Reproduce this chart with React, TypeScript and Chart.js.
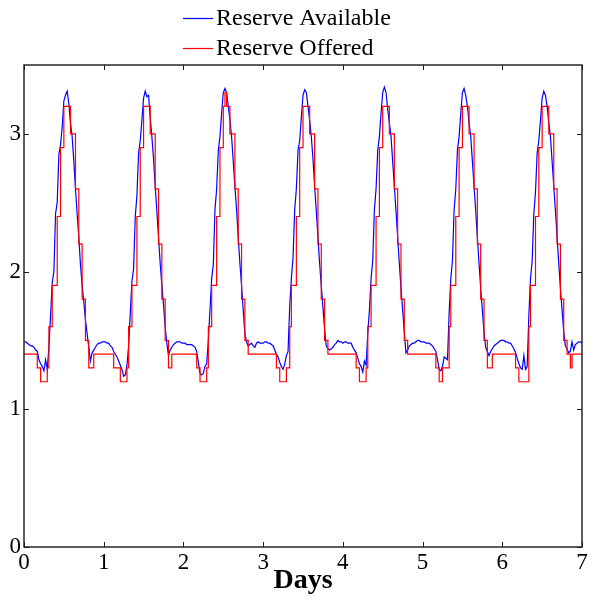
import React, { useEffect, useRef } from 'react';
import { Chart, registerables } from 'chart.js';

Chart.register(...registerables);

const SERIF = '"Liberation Serif", "Times New Roman", serif';
const STEPS_PER_DAY = 48; // half-hour samples
const xTickValues = [0, 1, 2, 3, 4, 5, 6, 7];
const yTickValues = [0, 1, 2, 3];
const seriesLabels = ['Reserve Available', 'Reserve Offered'];
const axisTitle = 'Days';

// Reserve Available (blue), one array per day, half-hourly
const availDay0 = [1.49,1.49,1.48,1.47,1.46,1.46,1.45,1.43, 1.42,1.36,1.33,1.31,1.28,1.36,1.29,1.45, 1.68,1.92,2.0,2.42,2.5,2.85,2.92,3.05, 3.24,3.28,3.31,3.22,3.08,2.98,2.8,2.6, 2.42,2.25,2.05,1.9,1.78,1.65,1.55,1.45, 1.35,1.41,1.43,1.45,1.47,1.48,1.48,1.49];
const availDay1 = [1.49,1.49,1.48,1.48,1.46,1.45,1.42,1.40, 1.38,1.35,1.32,1.29,1.24,1.25,1.32,1.46, 1.7,1.93,2.02,2.4,2.55,2.86,2.95,3.1, 3.26,3.31,3.27,3.28,3.12,2.98,2.82,2.62, 2.44,2.25,2.06,1.9,1.76,1.6,1.48,1.39, 1.43,1.45,1.47,1.48,1.49,1.49,1.49,1.48];
const availDay2 = [1.48,1.48,1.47,1.47,1.47,1.47,1.46,1.45, 1.42,1.34,1.26,1.25,1.26,1.31,1.33,1.5, 1.72,1.95,2.05,2.45,2.6,2.88,2.98,3.15, 3.3,3.33,3.3,3.2,3.1,2.98,2.8,2.62, 2.45,2.25,2.06,1.9,1.72,1.55,1.49,1.46, 1.47,1.48,1.46,1.45,1.48,1.49,1.48,1.48];
const availDay3 = [1.48,1.49,1.49,1.48,1.48,1.47,1.46,1.43, 1.40,1.38,1.34,1.31,1.29,1.33,1.39,1.42, 1.75,1.95,2.1,2.45,2.6,2.88,2.95,3.12, 3.28,3.32,3.3,3.2,3.1,2.98,2.82,2.62, 2.44,2.25,2.06,1.9,1.74,1.58,1.46,1.44, 1.43,1.44,1.45,1.47,1.48,1.5,1.49,1.49];
const availDay4 = [1.48,1.49,1.49,1.48,1.48,1.48,1.45,1.43, 1.41,1.37,1.33,1.31,1.27,1.35,1.32,1.55, 1.72,1.95,2.08,2.45,2.6,2.88,2.98,3.15, 3.3,3.34,3.3,3.18,3.08,2.98,2.8,2.62, 2.44,2.25,2.06,1.88,1.72,1.56,1.41,1.43, 1.46,1.47,1.48,1.48,1.49,1.5,1.5,1.49];
const availDay5 = [1.49,1.49,1.48,1.48,1.48,1.47,1.46,1.44, 1.42,1.36,1.29,1.28,1.31,1.38,1.37,1.36, 1.7,1.95,2.08,2.45,2.6,2.88,2.98,3.15, 3.3,3.33,3.28,3.2,3.08,2.98,2.8,2.62, 2.44,2.25,2.06,1.88,1.72,1.56,1.45,1.42, 1.39,1.42,1.44,1.46,1.47,1.48,1.49,1.5];
const availDay6 = [1.5,1.5,1.49,1.49,1.48,1.48,1.46,1.44, 1.41,1.37,1.33,1.3,1.29,1.39,1.29,1.31, 1.68,1.95,2.08,2.42,2.58,2.86,2.95,3.1, 3.26,3.31,3.28,3.2,3.08,2.98,2.8,2.62, 2.44,2.25,2.06,1.88,1.72,1.56,1.46,1.44, 1.41,1.42,1.49,1.43,1.47,1.48,1.49,1.49];
const availEnd = 1.48;

// Reserve Offered (red, stepped), one array per day, half-hourly
const offerDay0 = [1.4,1.4,1.4,1.4,1.4,1.4,1.4,1.4, 1.3,1.3,1.2,1.2,1.2,1.2,1.3,1.6, 1.6,1.9,1.9,1.9,2.4,2.4,2.9,2.9, 3.2,3.2,3.2,3.2,3.0,3.0,3.0,2.6, 2.6,2.2,2.2,1.8,1.8,1.5,1.5,1.3, 1.3,1.3,1.4,1.4,1.4,1.4,1.4,1.4];
const offerDay1 = [1.4,1.4,1.4,1.4,1.4,1.4,1.3,1.3, 1.3,1.3,1.2,1.2,1.2,1.2,1.3,1.6, 1.6,1.9,1.9,1.9,2.4,2.4,2.9,2.9, 3.2,3.2,3.2,3.2,3.0,3.0,3.0,2.6, 2.6,2.2,2.2,1.8,1.8,1.5,1.5,1.3, 1.3,1.4,1.4,1.4,1.4,1.4,1.4,1.4];
const offerDay2 = [1.4,1.4,1.4,1.4,1.4,1.4,1.4,1.4, 1.3,1.3,1.2,1.2,1.2,1.2,1.3,1.6, 1.6,1.9,1.9,1.9,2.4,2.4,2.9,2.9, 3.2,3.3,3.2,3.2,3.0,3.0,3.0,2.6, 2.6,2.2,2.2,1.8,1.8,1.5,1.5,1.4, 1.4,1.4,1.4,1.4,1.4,1.4,1.4,1.4];
const offerDay3 = [1.4,1.4,1.4,1.4,1.4,1.4,1.4,1.4, 1.3,1.3,1.2,1.2,1.2,1.2,1.3,1.3, 1.6,1.9,1.9,1.9,2.4,2.4,2.9,2.9, 3.2,3.2,3.2,3.2,3.0,3.0,3.0,2.6, 2.6,2.2,2.2,1.8,1.8,1.5,1.5,1.4, 1.4,1.4,1.4,1.4,1.4,1.4,1.4,1.4];
const offerDay4 = [1.4,1.4,1.4,1.4,1.4,1.4,1.4,1.4, 1.3,1.3,1.2,1.2,1.2,1.2,1.3,1.6, 1.6,1.9,1.9,1.9,2.4,2.4,2.9,2.9, 3.2,3.2,3.2,3.2,3.0,3.0,3.0,2.6, 2.6,2.2,2.2,1.8,1.8,1.5,1.5,1.4, 1.4,1.4,1.4,1.4,1.4,1.4,1.4,1.4];
const offerDay5 = [1.4,1.4,1.4,1.4,1.4,1.4,1.4,1.4, 1.3,1.3,1.2,1.2,1.3,1.3,1.3,1.3, 1.6,1.9,1.9,1.9,2.4,2.4,2.9,2.9, 3.2,3.2,3.2,3.2,3.0,3.0,3.0,2.6, 2.6,2.2,2.2,1.8,1.8,1.5,1.5,1.3, 1.3,1.3,1.4,1.4,1.4,1.4,1.4,1.4];
const offerDay6 = [1.4,1.4,1.4,1.4,1.4,1.4,1.4,1.4, 1.3,1.3,1.2,1.2,1.2,1.2,1.2,1.2, 1.6,1.9,1.9,1.9,2.4,2.4,2.9,2.9, 3.2,3.2,3.2,3.2,3.0,3.0,3.0,2.6, 2.6,2.2,2.2,1.8,1.8,1.5,1.5,1.4, 1.4,1.3,1.4,1.4,1.4,1.4,1.4,1.4];
const offerEnd = 1.4;

const availDays = [availDay0, availDay1, availDay2, availDay3, availDay4, availDay5, availDay6];
const offerDays = [offerDay0, offerDay1, offerDay2, offerDay3, offerDay4, offerDay5, offerDay6];

function toPoints(days: number[][], end: number) {
  const pts: { x: number; y: number }[] = [];
  days.forEach((arr, d) => arr.forEach((v, i) => pts.push({ x: d + i / STEPS_PER_DAY, y: v })));
  pts.push({ x: days.length, y: end });
  return pts;
}

const framePlugin = {
  id: 'matlabFrame',
  afterDatasetsDraw(chart: any) {
    const { ctx, chartArea: a, scales } = chart;
    const x = scales.x;
    const y = scales.y;
    ctx.save();
    ctx.strokeStyle = '#1a1a1a';
    ctx.lineWidth = 1.4;
    ctx.strokeRect(a.left, a.top, a.right - a.left, a.bottom - a.top);
    ctx.lineWidth = 1;
    const len = 5;
    ctx.beginPath();
    xTickValues.forEach((v) => {
      const px = Math.round(x.getPixelForValue(v)) + 0.5;
      ctx.moveTo(px, a.bottom); ctx.lineTo(px, a.bottom - len);
      ctx.moveTo(px, a.top); ctx.lineTo(px, a.top + len);
    });
    yTickValues.forEach((v) => {
      const py = Math.round(y.getPixelForValue(v)) + 0.5;
      ctx.moveTo(a.left, py); ctx.lineTo(a.left + len, py);
      ctx.moveTo(a.right, py); ctx.lineTo(a.right - len, py);
    });
    ctx.stroke();
    ctx.restore();
  },
};

const legendPlugin = {
  id: 'stackedLegend',
  afterDraw(chart: any) {
    const { ctx } = chart;
    const ds = chart.data.datasets;
    ctx.save();
    ctx.font = `24px ${SERIF}`;
    ctx.textBaseline = 'middle';
    ctx.textAlign = 'left';
    ds.forEach((d: any, i: number) => {
      const yy = 18 + i * 30;
      ctx.strokeStyle = d.borderColor;
      ctx.lineWidth = 1.2;
      ctx.beginPath();
      ctx.moveTo(183, yy + 0.5);
      ctx.lineTo(213, yy + 0.5);
      ctx.stroke();
      ctx.fillStyle = '#000';
      ctx.fillText(d.label, 216, yy + 1);
    });
    ctx.restore();
  },
};

export default function App() {
  const ref = useRef<HTMLCanvasElement | null>(null);
  useEffect(() => {
    if (!ref.current) return;
    const chart = new Chart(ref.current, {
      type: 'line',
      data: {
        datasets: [
          {
            label: seriesLabels[0],
            data: toPoints(availDays, availEnd),
            borderColor: '#0000ff',
            backgroundColor: '#0000ff',
            borderWidth: 1.2,
            pointRadius: 0,
            tension: 0,
            order: 1,
          },
          {
            label: seriesLabels[1],
            data: toPoints(offerDays, offerEnd),
            borderColor: '#ff0000',
            backgroundColor: '#ff0000',
            borderWidth: 1.2,
            pointRadius: 0,
            stepped: true,
            tension: 0,
            order: 0,
          },
        ],
      },
      options: {
        animation: false,
        responsive: true,
        maintainAspectRatio: false,
        layout: { padding: { top: 65, right: 17, left: 0, bottom: 0 } },
        plugins: { legend: { display: false }, tooltip: { enabled: false } },
        scales: {
          x: {
            type: 'linear',
            min: 0,
            max: 7,
            grid: { display: false, drawTicks: false },
            border: { display: false },
            ticks: { stepSize: 1, color: '#000', font: { family: SERIF, size: 23 }, padding: 2, maxRotation: 0 },
            title: { display: true, text: axisTitle, color: '#000', font: { family: SERIF, size: 28, weight: 'bold' }, padding: { top: 0, bottom: 2 } },
            afterFit: (s: any) => { s.height = 53; },
          },
          y: {
            type: 'linear',
            min: 0,
            max: 3.5,
            grid: { display: false, drawTicks: false },
            border: { display: false },
            ticks: { stepSize: 1, color: '#000', font: { family: SERIF, size: 23 }, padding: 3 },
            afterBuildTicks: (s: any) => { s.ticks = s.ticks.filter((t: any) => yTickValues.includes(t.value)); },
            afterFit: (s: any) => { s.width = 24; },
          },
        },
      } as any,
      plugins: [framePlugin, legendPlugin],
    });
    return () => chart.destroy();
  }, []);
  return (
    <div style={{ position: 'fixed', left: 0, top: 0, width: 599, height: 600, background: '#fff' }}>
      <canvas ref={ref} />
    </div>
  );
}
